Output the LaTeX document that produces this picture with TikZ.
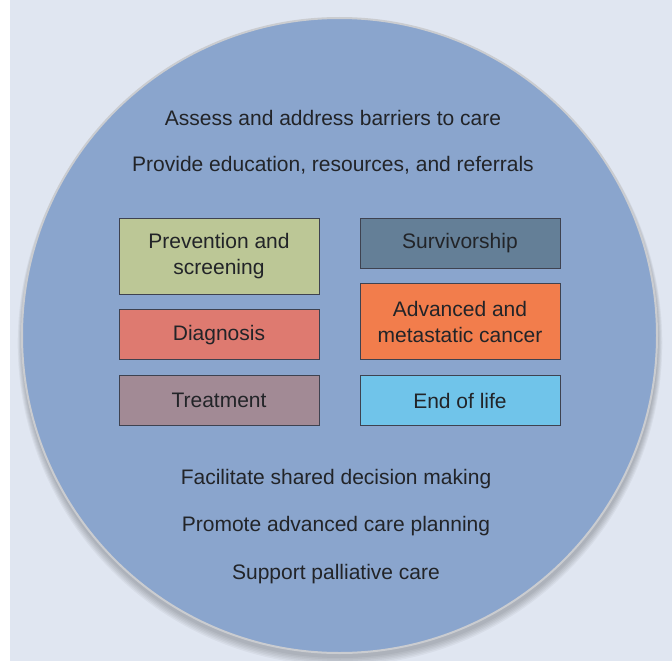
\documentclass[tikz,border=0pt]{standalone}
\usepackage{fontspec}
\setmainfont{Liberation Sans}
\usetikzlibrary{positioning}

\definecolor{panelbg}{HTML}{E0E6F1}
\definecolor{wheelfill}{HTML}{8AA5CD}
\definecolor{wheelrim}{HTML}{CACCD0}
\definecolor{boxline}{HTML}{3E4250}
\definecolor{inktext}{HTML}{222428}
\definecolor{prevfill}{HTML}{BCC796}
\definecolor{survfill}{HTML}{647F97}
\definecolor{advfill}{HTML}{F27D4C}
\definecolor{diagfill}{HTML}{DE7A70}
\definecolor{treatfill}{HTML}{A28A95}
\definecolor{endfill}{HTML}{70C4EA}

\tikzset{
  stage/.style={rectangle, draw=boxline, line width=0.9pt, minimum width=200pt,
    minimum height=50pt, inner sep=0pt, align=center, text=inktext,
    font=\fontsize{21}{26}\selectfont},
  task/.style={text=inktext, inner sep=0pt, font=\fontsize{21}{24}\selectfont}
}

\begin{document}
\begin{tikzpicture}[x=1pt, y=-1pt, node distance=15pt]
  \useasboundingbox (0,0) rectangle (672,661);
  \fill[white] (0,0) rectangle (672,661);
  \fill[panelbg] (10,0) rectangle (672,661);
  % soft shadow under the wheel
  \foreach \s in {1,2,...,6}
    \fill[black, opacity=0.04] (340,339+\s*0.7) circle (317.5+\s*0.8);
  \node[circle, fill=wheelfill, draw=wheelrim, line width=2pt, minimum size=635pt, inner sep=0pt] (wheel) at (339.5,335.5) {};

  \node[task] (assess) at (333,118) {Assess and address barriers to care};
  \node[task] (provide) at (333,165) {Provide education, resources, and referrals};

  \node[stage, fill=prevfill, minimum height=76pt] (prevent) at (219,256) {Prevention and\\screening};
  \node[stage, fill=diagfill, below=of prevent] (diagnose) {Diagnosis};
  \node[stage, fill=treatfill, below=of diagnose] (treat) {Treatment};
  \node[stage, fill=survfill] (survive) at (460,243) {Survivorship};
  \node[stage, fill=advfill, minimum height=76pt, below=of survive] (advanced) {Advanced and\\metastatic cancer};
  \node[stage, fill=endfill, below=of advanced] (endlife) {End of life};

  \node[task] (shared) at (336,479) {Facilitate shared decision making};
  \node[task] (planning) at (336,526) {Promote advanced care planning};
  \node[task] (palliate) at (336,574) {Support palliative care};
\end{tikzpicture}
\end{document}
